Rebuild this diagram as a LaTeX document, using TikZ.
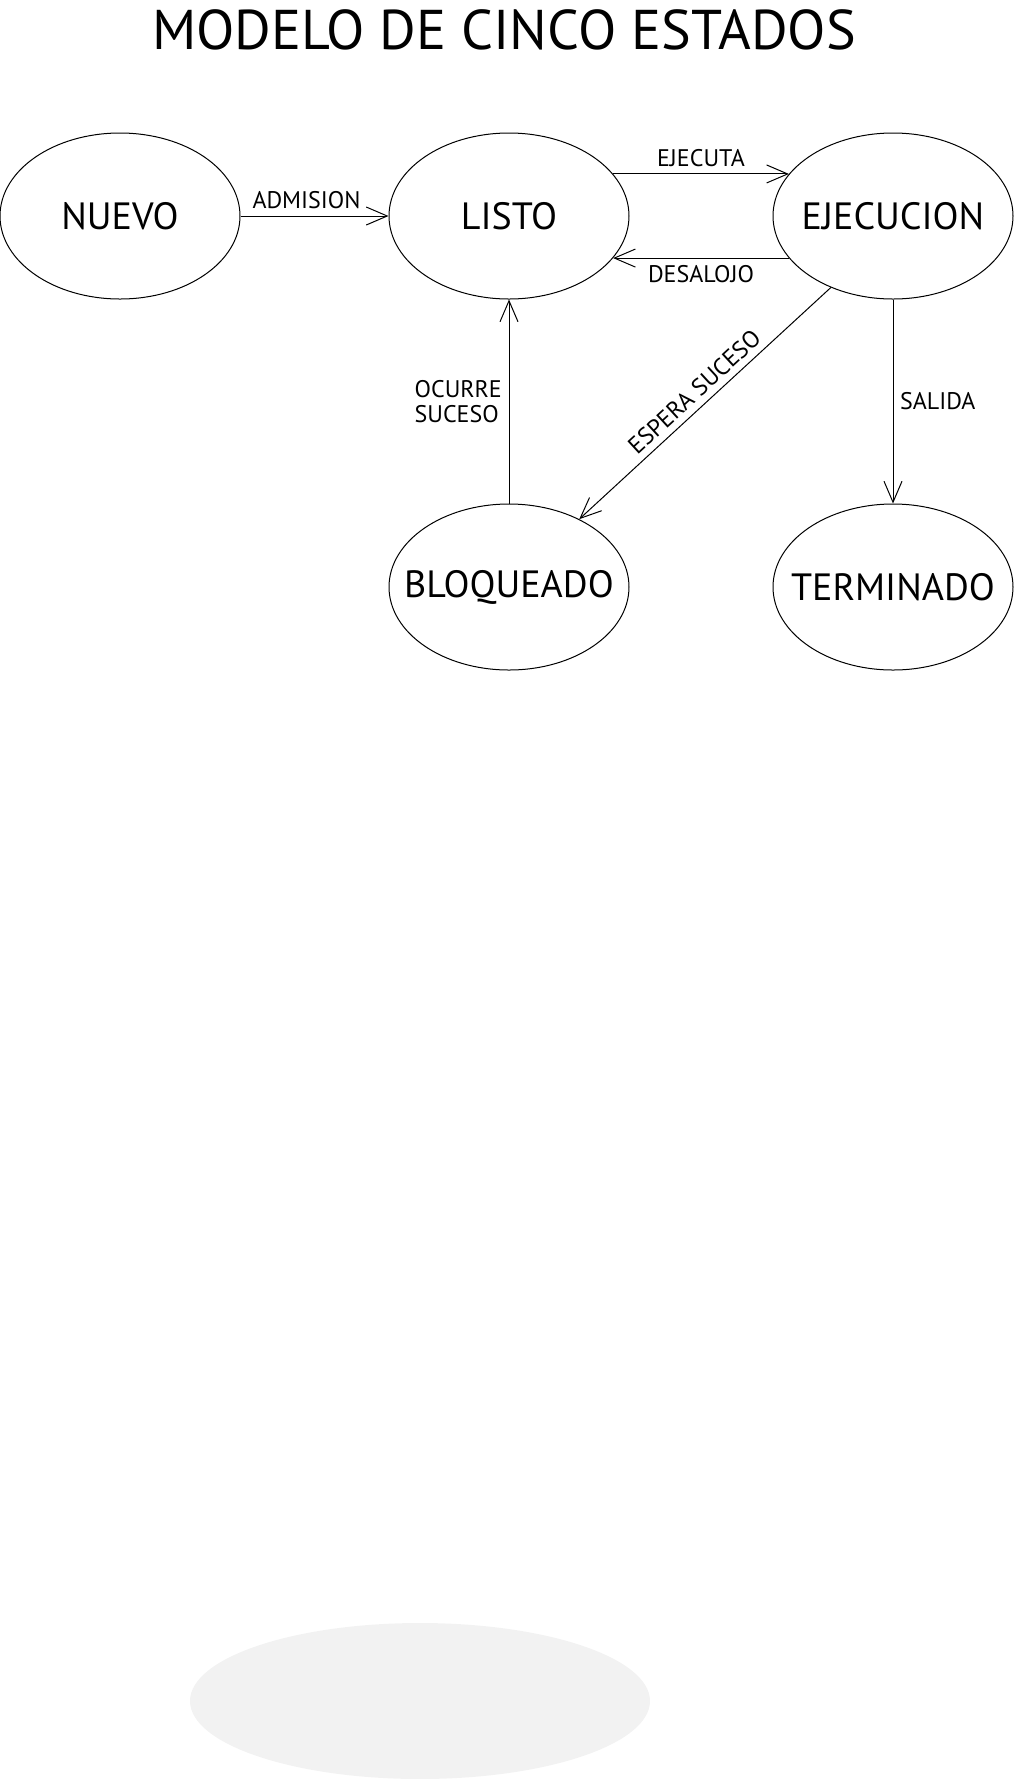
\documentclass[tikz,border=0pt]{standalone}
\usepackage{fontspec}
\setmainfont{PT Sans}
\usetikzlibrary{shapes.geometric}
\usetikzlibrary{positioning,arrows.meta}

\begin{document}
\begin{tikzpicture}[x=0.5pt,y=-0.5pt,node distance=192pt,on grid,auto,
   >={Straight Barb[length=10.5pt,width=9pt]},line width=0.5pt,
   estado/.style={ellipse,draw,minimum width=120pt,minimum height=83pt,inner sep=0pt,
      inner xsep=-12pt,font=\fontsize{19}{22}\selectfont},
   etiqueta/.style={font=\fontsize{12}{12.5}\selectfont}]
   \useasboundingbox (0,0) rectangle (1014,1779);
   \node (titulo) at (504,30) {\fontsize{28}{32}\selectfont MODELO DE CINCO ESTADOS};
   \node[estado] (nuevo) at (120,216) {NUEVO};
   \node[estado] (listo) [right=194.5pt of nuevo] {LISTO};
   \node[estado] (ejec)  [right=of listo] {EJECUCION};
   \node[estado] (bloq)  [below=185.5pt of listo] {BLOQUEADO};
   \node[estado] (term)  [below=185.5pt of ejec] {TERMINADO};
    \path[->,nodes=etiqueta]
    (nuevo) edge node [xshift=-4pt] {ADMISION} (listo)
    (listo.22) edge node {EJECUTA} (ejec.158)
    (ejec.202) edge node {DESALOJO} (listo.338)
    (bloq) edge node [align=left] {OCURRE\\SUCESO} (listo)
    (ejec.229) edge node [sloped] {ESPERA SUCESO} (bloq.44)
    (ejec) edge node {SALIDA} (term)
      ;
   % sombra
   \fill[black!5] (420,1701) ellipse [x radius=230,y radius=78];
\end{tikzpicture}
\end{document}
